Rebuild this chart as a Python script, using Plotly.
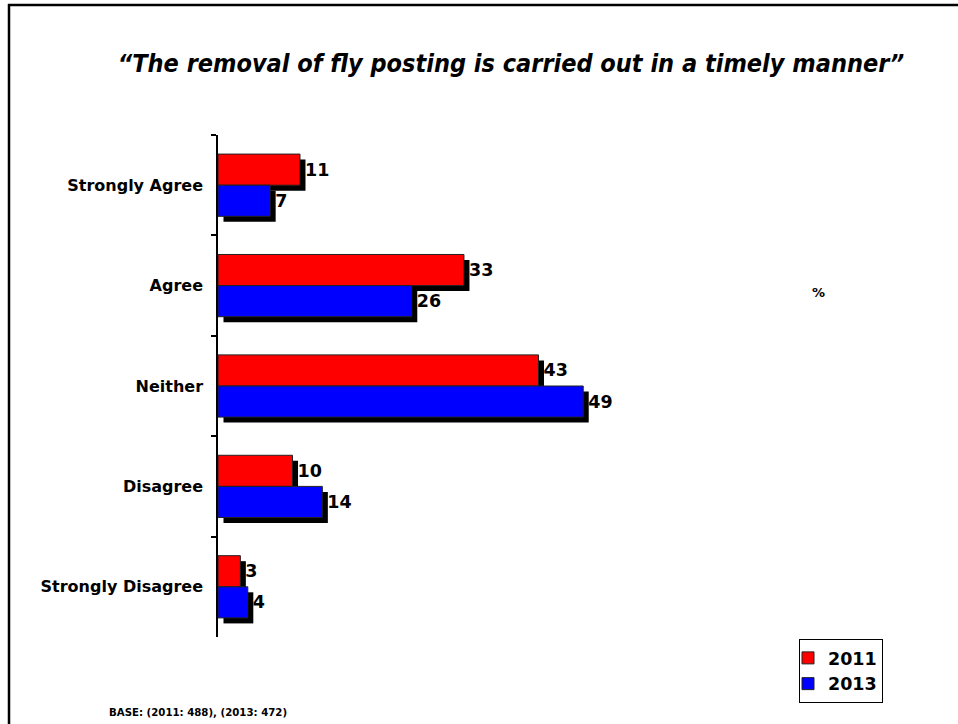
import plotly.graph_objects as go

categories = ["Strongly Agree", "Agree", "Neither", "Disagree", "Strongly Disagree"]
years = ["2011", "2013"]
values_2011 = [11, 33, 43, 10, 3]
values_2013 = [7, 26, 49, 14, 4]
colors = {"2011": "#FF0000", "2013": "#0000FF"}

W, H = 958, 724
ml, mt, mb, mr = 218, 135, 87, 140
PW = W - ml - mr
PH = H - mt - mb
XMAX = 80.5
px_per_unit = PW / XMAX
shift_x = 5.5 / px_per_unit        # shadow shift (data units)
shift_y = 5.5 / (PH / 5)            # shadow shift (category units)
text_base = 2.0 / px_per_unit
bw = 0.31

BOLD = dict(family="DejaVu Sans", color="black", weight="bold")

fig = go.Figure()
series = [("2011", values_2011, -bw), ("2013", values_2013, 0.0)]

# shadows
for name, vals, off in series:
    fig.add_trace(go.Bar(
        y=categories, x=vals, base=shift_x, orientation="h",
        width=bw, offset=off + shift_y,
        marker=dict(color="black", line=dict(width=0)),
        showlegend=False, hoverinfo="skip"))

# main bars
for name, vals, off in series:
    fig.add_trace(go.Bar(
        y=categories, x=vals, orientation="h", name=name,
        width=bw, offset=off,
        marker=dict(color=colors[name], line=dict(color="#222222", width=1)),
        showlegend=True))

# labels placed past the shadow
for name, vals, off in series:
    fig.add_trace(go.Bar(
        y=categories, x=vals, base=text_base, orientation="h",
        width=bw, offset=off,
        marker=dict(color="rgba(0,0,0,0)", line=dict(width=0)),
        text=[str(v) for v in vals], textposition="outside",
        textfont=dict(BOLD, size=17.5),
        cliponaxis=False, showlegend=False, hoverinfo="skip"))

def px_to_paper_x(px):
    return (px - ml) / PW

def px_to_paper_y(py):
    return (H - mb - py) / PH

fig.update_layout(
    width=W, height=H,
    margin=dict(l=ml, r=mr, t=mt, b=mb, pad=0),
    barmode="overlay",
    plot_bgcolor="white", paper_bgcolor="white",
    font=dict(family="DejaVu Sans", color="black"),
    title=dict(
        text="<i>\u201cThe removal of fly posting is carried out in a timely manner\u201d</i>",
        font=dict(family="DejaVu Sans Condensed, DejaVu Sans", color="black",
                  weight="bold", size=25),
        x=511 / W, y=1 - 63 / H, xref="container", yref="container",
        xanchor="center", yanchor="middle"),
    xaxis=dict(range=[0, XMAX], showline=False, showticklabels=False,
               showgrid=False, zeroline=False, ticks=""),
    yaxis=dict(type="category", categoryorder="array", categoryarray=categories,
               range=[4.5, -0.5], showline=True, linecolor="black", linewidth=1.5,
               ticks="outside", ticklen=5, tickcolor="black", tickwidth=1.5,
               tickson="boundaries", showgrid=False, zeroline=False,
               tickfont=dict(BOLD, size=16),
               ticklabelstandoff=10),
    legend=dict(
        x=px_to_paper_x(799), y=px_to_paper_y(639), xanchor="left", yanchor="top",
        xref="paper", yref="paper",
        bordercolor="black", borderwidth=1, bgcolor="white",
        font=dict(BOLD, size=17.5),
        itemwidth=30, tracegroupgap=0, indentation=-12),
    showlegend=True,
    annotations=[
        dict(text="%", x=px_to_paper_x(818), y=px_to_paper_y(292),
             xref="paper", yref="paper", showarrow=False,
             font=dict(BOLD, size=13),
             xanchor="center", yanchor="middle"),
        dict(text="BASE: (2011: 488), (2013: 472)",
             x=px_to_paper_x(107), y=px_to_paper_y(712),
             xref="paper", yref="paper", showarrow=False,
             font=dict(BOLD, size=10.2),
             xanchor="left", yanchor="middle"),
    ],
    shapes=[
        dict(type="line", xref="paper", yref="paper",
             x0=px_to_paper_x(9), x1=px_to_paper_x(9),
             y0=px_to_paper_y(4), y1=px_to_paper_y(740),
             line=dict(color="black", width=2.5)),
        dict(type="line", xref="paper", yref="paper",
             x0=px_to_paper_x(8), x1=px_to_paper_x(970),
             y0=px_to_paper_y(5), y1=px_to_paper_y(5),
             line=dict(color="black", width=2.5)),
    ],
)

fig.write_html("out.html", config={"displayModeBar": False},
               post_script="document.body.style.margin='0';")
